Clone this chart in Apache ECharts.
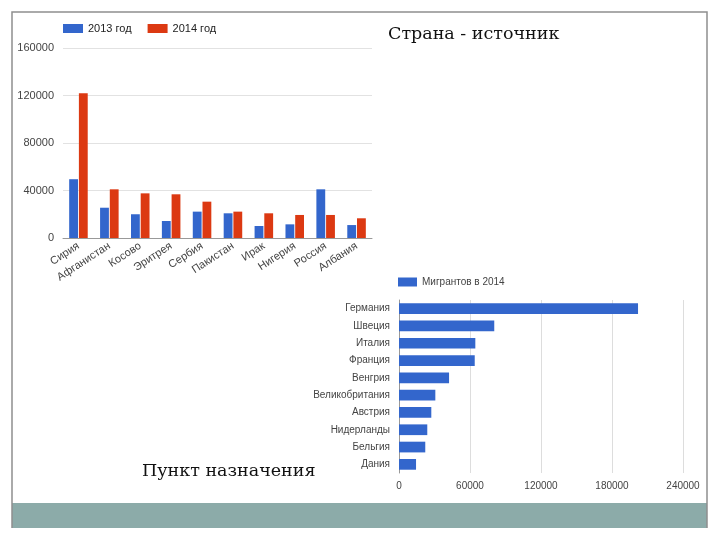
<!DOCTYPE html>
<html><head><meta charset="utf-8">
<script src="https://cdn.jsdelivr.net/npm/echarts@6/dist/echarts.min.js"></script>
<style>html,body{margin:0;padding:0;background:#fff}#c{width:720px;height:540px}</style>
</head><body><div id="c"></div>
<script>
const sourceCountries = ['Сирия','Афганистан','Косово','Эритрея','Сербия','Пакистан','Ирак','Нигерия','Россия','Албания'];
const values2013 = [49500, 25500, 20000, 14300, 22200, 20800, 10100, 11500, 41000, 10900];
const values2014 = [122000, 41000, 37600, 36800, 30600, 22200, 20800, 19400, 19400, 16600];
const topTicks = [0, 40000, 80000, 120000, 160000];

const destCountries = ['Германия','Швеция','Италия','Франция','Венгрия','Великобритания','Австрия','Нидерланды','Бельгия','Дания'];
const migrants2014 = [202000, 80500, 64500, 64000, 42300, 30700, 27300, 23900, 22200, 14400];
const bottomTicks = [0, 60000, 120000, 180000, 240000];

const chart = echarts.init(document.getElementById('c'));
const lab = {color:'#444', fontFamily:'Arial, Liberation Sans, sans-serif'};
const plain = v => String(v);
chart.setOption({
  animation:false,
  legend:[
    {left:58, top:18, itemWidth:20, itemHeight:9, itemGap:16, icon:'rect',
     data:['2013 год','2014 год'], textStyle:{fontSize:11, color:'#222', fontFamily:'Arial, Liberation Sans, sans-serif'}},
    {left:393, top:272, itemWidth:19, itemHeight:9, icon:'rect',
     data:['Мигрантов в 2014'], textStyle:{fontSize:10, color:'#444', fontFamily:'Arial, Liberation Sans, sans-serif'}}
  ],
  grid:[
    {left:63, right:348, top:48, bottom:302},
    {left:399, right:37, top:300, bottom:67}
  ],
  xAxis:[
    {gridIndex:0, type:'category', data:sourceCountries,
     axisLine:{lineStyle:{color:'#999'}}, axisTick:{show:false},
     axisLabel:Object.assign({fontSize:11, rotate:33, margin:7, interval:0}, lab)},
    {gridIndex:1, type:'value', min:bottomTicks[0], max:bottomTicks[bottomTicks.length-1], interval:bottomTicks[1]-bottomTicks[0],
     axisLine:{show:false}, axisTick:{show:false},
     splitLine:{lineStyle:{color:'#ddd'}},
     axisLabel:Object.assign({fontSize:10, margin:8, formatter:plain}, lab)}
  ],
  yAxis:[
    {gridIndex:0, type:'value', min:topTicks[0], max:topTicks[topTicks.length-1], interval:topTicks[1]-topTicks[0],
     axisLine:{show:false}, axisTick:{show:false},
     splitLine:{lineStyle:{color:'#e2e2e2'}},
     axisLabel:Object.assign({fontSize:11, margin:9, formatter:plain}, lab)},
    {gridIndex:1, type:'category', data:destCountries, inverse:true,
     axisLine:{show:true, lineStyle:{color:'#999'}}, axisTick:{show:false},
     axisLabel:Object.assign({fontSize:10, margin:9, interval:0}, lab)}
  ],
  series:[
    {name:'2013 год', type:'bar', xAxisIndex:0, yAxisIndex:0, data:values2013,
     itemStyle:{color:'#3366CC'}, barGap:'10%', barCategoryGap:'40%'},
    {name:'2014 год', type:'bar', xAxisIndex:0, yAxisIndex:0, data:values2014,
     itemStyle:{color:'#DC3912'}},
    {name:'Мигрантов в 2014', type:'bar', xAxisIndex:1, yAxisIndex:1, data:migrants2014,
     itemStyle:{color:'#3366CC'}, barCategoryGap:'38%'}
  ],
  graphic:[
    {type:'rect', shape:{x:12, y:503, width:695, height:25}, style:{fill:'#8CABA9'}, z:-1},
    {type:'polyline', shape:{points:[[12,528],[12,12],[707,12],[707,528]]}, style:{stroke:'#8f8f8f', lineWidth:1.5, fill:null}},
    {type:'text', left:388, top:25, style:{text:'Страна - источник', font:'17.5px "DejaVu Serif", serif', fill:'#111'}},
    {type:'text', left:142, top:462, style:{text:'Пункт назначения', font:'17.5px "DejaVu Serif", serif', fill:'#111'}}
  ]
});
</script></body></html>
